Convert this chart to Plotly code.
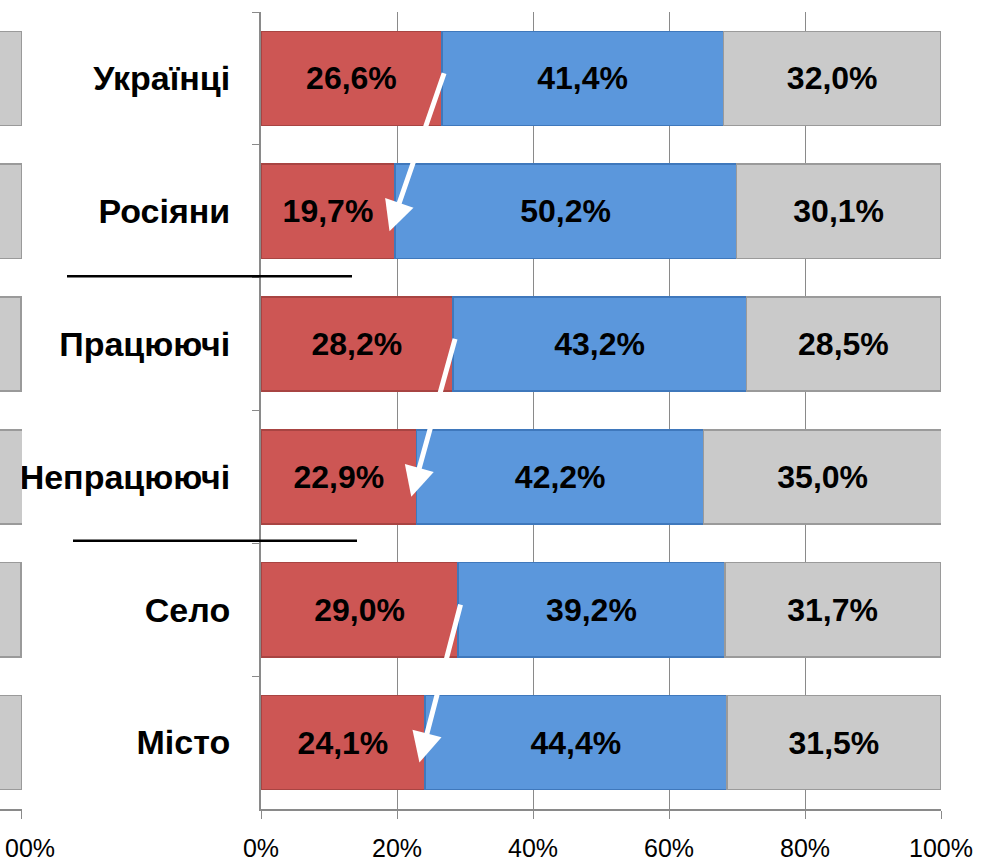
import plotly.graph_objects as go

categories = ["Українці", "Росіяни", "Працюючі", "Непрацюючі", "Село", "Місто"]
red_vals = [26.6, 19.7, 28.2, 22.9, 29.0, 24.1]
blue_vals = [41.4, 50.2, 43.2, 42.2, 39.2, 44.4]
gray_vals = [32.0, 30.1, 28.5, 35.0, 31.7, 31.5]
x_ticks = [0, 20, 40, 60, 80, 100]

RED = "#CD5654"
BLUE = "#5B97DC"
GRAY = "#CACACA"
FONT = "Liberation Sans"

W, H = 989, 862
ML, MR, MT, MB = 0, 48, 12, 53
PW = W - ML - MR
X0 = 261  # pixel of 0%


def fmt(v):
    return f"{v:.1f}".replace(".", ",") + "%"


fig = go.Figure()
series = [(red_vals, RED, "#A84442"), (blue_vals, BLUE, "#3F78BC"), (gray_vals, GRAY, "#9A9A9A")]
for vals, col, edge in series:
    fig.add_trace(go.Bar(
        y=categories, x=vals, orientation="h", xaxis="x", yaxis="y",
        marker=dict(color=col, line=dict(color=edge, width=1.5)),
        text=[fmt(v) for v in vals], textposition="inside", insidetextanchor="middle",
        textangle=0, constraintext="none",
        textfont=dict(family=FONT, size=32, color="black", weight="bold"),
        showlegend=False, hoverinfo="skip",
    ))
# partial neighbouring chart at the left edge (only its right end is visible)
for vals, col, edge in series:
    fig.add_trace(go.Bar(
        y=categories, x=vals, orientation="h", xaxis="x2", yaxis="y",
        marker=dict(color=col, line=dict(color=edge, width=1.5)),
        showlegend=False, hoverinfo="skip",
    ))

annotations = []
# white arrows from red share of the first group to red share of the second group
for i in range(0, len(categories), 2):
    annotations.append(dict(
        x=red_vals[i + 1] - 0.8, y=i + 1 + 0.15,
        ax=red_vals[i] + 0.4, ay=i - 0.05,
        xref="x", yref="y", axref="x", ayref="y",
        text="", showarrow=True, arrowhead=2, arrowsize=1.2, arrowwidth=5,
        arrowcolor="white", standoff=0, startstandoff=0,
    ))
annotations.append(dict(
    x=(57 - ML) / PW, xref="paper", xanchor="right",
    y=-0.029, yref="paper", yanchor="top",
    text="00%", showarrow=False,
    font=dict(family=FONT, size=25, color="black"),
))

shapes = [
    dict(type="line", xref="paper", yref="y", x0=67 / PW, x1=352 / PW, y0=1.49, y1=1.49,
         line=dict(color="black", width=2.5)),
    dict(type="line", xref="paper", yref="y", x0=73 / PW, x1=357 / PW, y0=3.48, y1=3.48,
         line=dict(color="black", width=2.5)),
]

fig.update_layout(
    template="none",
    width=W, height=H,
    margin=dict(l=ML, r=MR, t=MT, b=MB, autoexpand=False),
    paper_bgcolor="white", plot_bgcolor="white",
    barmode="stack", bargap=0.29,
    xaxis=dict(
        domain=[(X0 - ML) / PW, 1], range=[0, 100], anchor="y", automargin=False,
        tickvals=x_ticks, ticktext=[f"{t}%" for t in x_ticks],
        showgrid=True, gridcolor="#8A8A8A", gridwidth=1.3,
        showline=True, linecolor="#8A8A8A", linewidth=2,
        ticks="outside", ticklen=8, tickcolor="#8A8A8A", tickwidth=1.3,
        ticklabelstandoff=8,
        tickfont=dict(family=FONT, size=25, color="black"),
        zeroline=False, fixedrange=True,
    ),
    xaxis2=dict(
        domain=[0, 22 / PW], range=[100 - 22 / 6.8, 100.02], anchor="y", automargin=False,
        tickvals=[100], showticklabels=False,
        showgrid=True, gridcolor="#8A8A8A", gridwidth=1.3,
        showline=True, linecolor="#8A8A8A", linewidth=2,
        ticks="outside", ticklen=8, tickcolor="#8A8A8A", tickwidth=1.3,
        zeroline=False, fixedrange=True,
    ),
    yaxis=dict(
        categoryorder="array", categoryarray=categories, autorange="reversed", automargin=False,
        showline=True, linecolor="#8A8A8A", linewidth=2,
        ticks="outside", tickson="boundaries", ticklen=7, tickcolor="#8A8A8A", tickwidth=1.3,
        ticklabelstandoff=22,
        tickfont=dict(family=FONT, size=34, color="black", weight="bold"),
        showgrid=False, zeroline=False, fixedrange=True,
    ),
    annotations=annotations,
    shapes=shapes,
)

fig.write_html(
    "out.html",
    config={"displayModeBar": False},
    post_script="document.body.style.margin='0';document.body.style.overflow='hidden';",
)
